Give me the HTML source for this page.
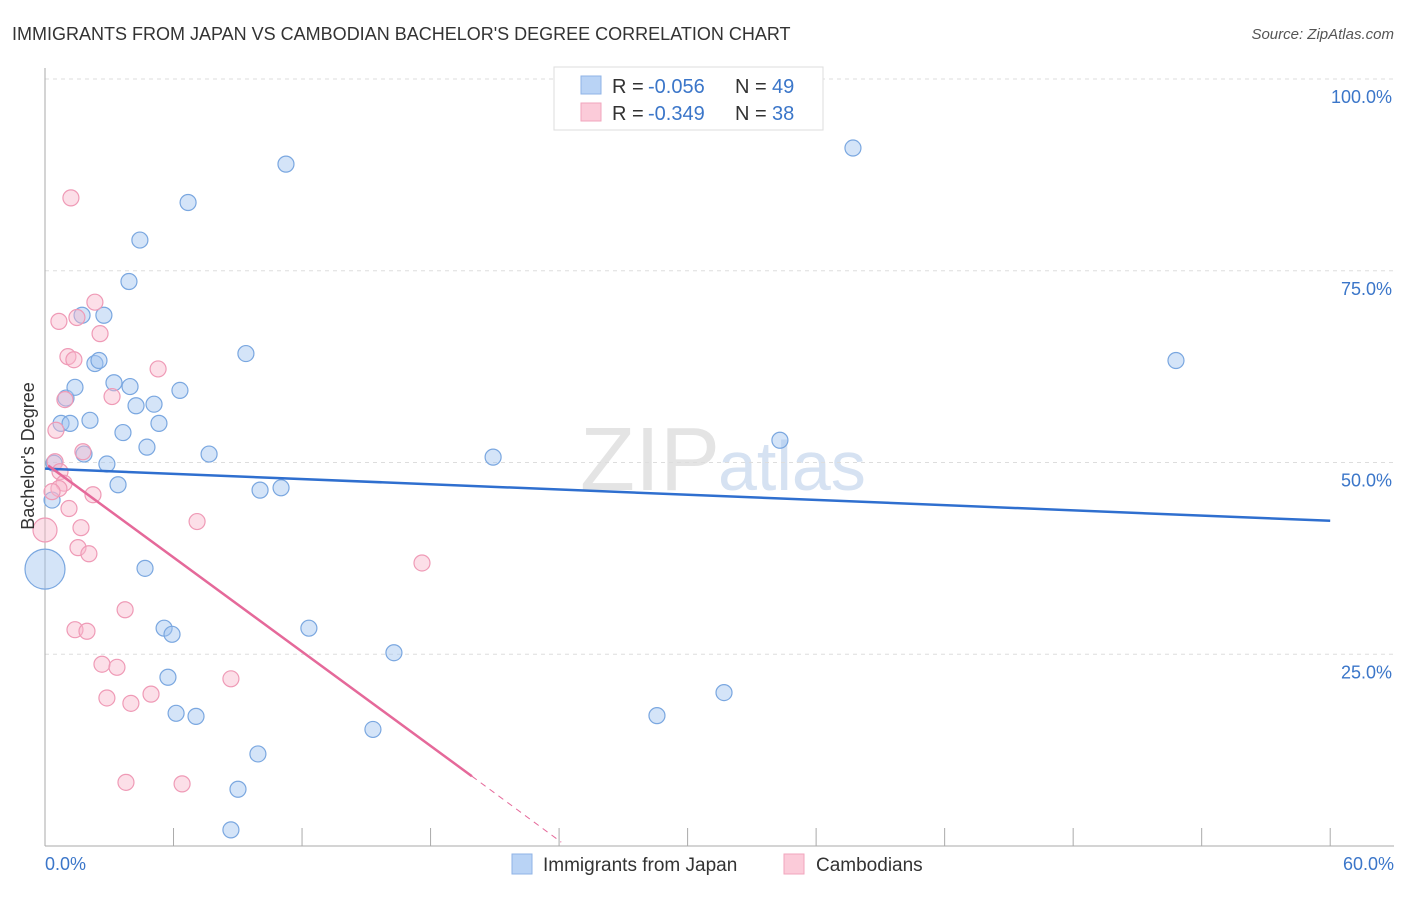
<!DOCTYPE html>
<html><head><meta charset="utf-8"><style>
body{margin:0;background:#fff;font-family:"Liberation Sans",sans-serif}
svg text{font-family:"Liberation Sans",sans-serif}
</style></head><body>
<svg id="c" width="1406" height="892">
<text x="12" y="40" font-size="18" fill="#333">IMMIGRANTS FROM JAPAN VS CAMBODIAN BACHELOR'S DEGREE CORRELATION CHART</text>
<text x="1394" y="39" font-size="15" fill="#555" font-style="italic" text-anchor="end">Source: ZipAtlas.com</text>
<text x="720" y="490" font-size="90" fill="#e4e4e4" font-family="Liberation Serif" text-anchor="end">ZIP</text>
<text x="718" y="490" font-size="70" fill="#d6e2f2">atlas</text>
<g id="grid"></g><g id="pts"></g><g id="trend"></g>
<text x="34" y="456" font-size="18" fill="#333" text-anchor="middle" transform="rotate(-90 34 456)">Bachelor's Degree</text>
<text x="45" y="870" font-size="18" fill="#3b76c9">0.0%</text>
<text x="1394" y="870" font-size="18" fill="#3b76c9" text-anchor="end">60.0%</text>
<g>
<rect x="554" y="67" width="269" height="63" fill="#fff" stroke="#ddd"/>
<rect x="581" y="76" width="20" height="18" fill="#b9d3f5" stroke="#8fb3e6"/>
<rect x="581" y="103" width="20" height="18" fill="#fbcbd9" stroke="#f1a6bd"/>
<text x="612" y="93" font-size="20" fill="#333">R = </text>
<text x="648" y="93" font-size="20" fill="#3b76c9">-0.056</text>
<text x="735" y="93" font-size="20" fill="#333">N = </text>
<text x="772" y="93" font-size="20" fill="#3b76c9">49</text>
<text x="612" y="120" font-size="20" fill="#333">R = </text>
<text x="648" y="120" font-size="20" fill="#3b76c9">-0.349</text>
<text x="735" y="120" font-size="20" fill="#333">N = </text>
<text x="772" y="120" font-size="20" fill="#3b76c9">38</text>
</g>
<g>
<rect x="512" y="854" width="20" height="20" fill="#b9d3f5" stroke="#8fb3e6"/>
<text x="543" y="871" font-size="19" fill="#333">Immigrants from Japan</text>
<rect x="784" y="854" width="20" height="20" fill="#fbcbd9" stroke="#f1a6bd"/>
<text x="816" y="871" font-size="19" fill="#333">Cambodians</text>
</g>
</svg>
<script>
const yTicks=[25,50,75,100];
const yTickLabels=["25.0%","50.0%","75.0%","100.0%"];
const xTicks=[0,6,12,18,24,30,36,42,48,54,60];
const blueX=[0,0.42,0.33,0.75,1.17,0.98,1.4,1.73,2.1,1.82,2.33,2.52,2.75,2.89,3.22,3.41,3.64,3.92,3.97,4.25,4.43,4.76,5.09,5.32,4.67,5.56,5.93,5.74,6.12,7.05,6.3,6.68,7.66,9.38,10.04,11.02,11.25,9.94,9.01,8.68,12.32,15.31,16.29,20.92,28.57,31.7,34.31,37.72,52.8];
const blueY=[36.1,49.9,45.1,55.1,55.1,58.4,59.8,69.2,55.5,51.1,62.9,63.3,69.2,49.8,60.4,47.1,53.9,73.6,59.9,57.4,79.0,52.0,57.6,55.1,36.2,28.4,27.6,22.0,17.3,16.9,59.4,83.9,51.1,64.2,46.4,46.7,88.9,12.0,7.4,2.1,28.4,15.2,25.2,50.7,17.0,20.0,52.9,91.0,63.3];
const pinkX=[0,1.21,2.33,0.65,1.49,2.57,1.07,1.35,5.28,0.93,3.13,0.51,1.77,0.47,0.7,0.89,0.65,0.33,2.24,1.12,1.68,7.1,1.54,2.05,17.6,3.74,1.4,1.96,2.66,3.36,2.89,4.01,4.95,8.68,3.78,6.4];
const pinkY=[41.2,84.5,70.9,68.4,68.9,66.8,63.8,63.4,62.2,58.2,58.6,54.2,51.4,50.1,48.8,47.3,46.6,46.2,45.8,44.0,41.5,42.3,38.9,38.1,36.9,30.8,28.2,28.0,23.7,23.3,19.3,18.6,19.8,21.8,8.3,8.1];
const X=v=>45+v*21.42, Y=v=>846-v*7.67;
const ns="http://www.w3.org/2000/svg";
function mk(t,a,p){const e=document.createElementNS(ns,t);for(const k in a)e.setAttribute(k,a[k]);p.appendChild(e);return e;}
const g=document.getElementById('grid');
mk('line',{x1:45,y1:Y(100),x2:1394,y2:Y(100),stroke:'#ddd','stroke-dasharray':'4,4'},g);
yTicks.forEach((t,i)=>{
 const l=mk('line',{x1:45,y1:Y(t),x2:1394,y2:Y(t),stroke:'#ddd','stroke-dasharray':'4,4'},g);
 
 
 const tx=mk('text',{x:1392,y:Y(t)+24,'font-size':18,fill:'#3b76c9','text-anchor':'end'},g);
 tx.textContent=yTickLabels[i];
 
 
});
mk('line',{x1:45,y1:68,x2:45,y2:846,stroke:'#aaa'},g);
mk('line',{x1:45,y1:846,x2:1394,y2:846,stroke:'#aaa'},g);
xTicks.forEach(t=>{
 const l=mk('line',{x1:X(t),y1:828,x2:X(t),y2:846,stroke:'#aaa'},g);
 
 
});
const p=document.getElementById('pts');
blueX.forEach((v,i)=>{
 const c=mk('circle',{cx:X(v),cy:Y(blueY[i]),r:i==0?20:8,fill:'rgba(160,195,240,0.45)',stroke:'#7aa7e0','stroke-width':1.2},p);
 
 
});
pinkX.forEach((v,i)=>{
 const c=mk('circle',{cx:X(v),cy:Y(pinkY[i]),r:i==0?12:8,fill:'rgba(248,185,205,0.45)',stroke:'#ef9ab6','stroke-width':1.2},p);
 
 
});
const tr=document.getElementById('trend');
let l=mk('line',{x1:X(0),y1:Y(49.2),x2:X(60),y2:Y(42.4),stroke:'#2f6fcf','stroke-width':2.5},tr);

l=mk('line',{x1:X(0.15),y1:Y(49.6),x2:X(19.93),y2:Y(9.1),stroke:'#e5699a','stroke-width':2.5},tr);

l=mk('line',{x1:X(19.93),y1:Y(9.1),x2:X(24.1),y2:Y(0.5),stroke:'#e5699a','stroke-width':1,'stroke-dasharray':'6,5'},tr);

</script>
</body></html>
